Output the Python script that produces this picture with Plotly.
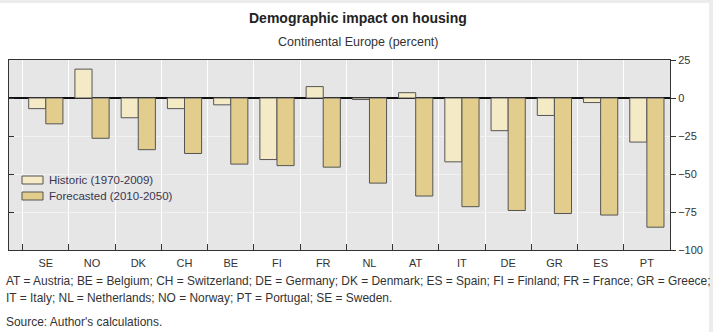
import plotly.graph_objects as go

countries = ["SE", "NO", "DK", "CH", "BE", "FI", "FR", "NL", "AT", "IT", "DE", "GR", "ES", "PT"]
historic = [-7, 19, -13, -7, -4.5, -40.5, 7.5, -1, 3.5, -42, -21.5, -11.5, -3, -29]
forecasted = [-17, -26.5, -34, -36.5, -43.5, -44.5, -45.5, -56, -64.5, -71.5, -74, -76, -77, -85]
series_names = ["Historic (1970-2009)", "Forecasted (2010-2050)"]
series_colors = ["#f4eac6", "#e2cd8c"]
y_ticks = [25, 0, -25, -50, -75, -100]
y_tick_text = ["25", "0", "\u221225", "\u221250", "\u221275", "\u2212100"]

W, H = 713, 332
L, R, T, B = 9, 670, 60, 250  # plot area in pixels

def px(x):
    return (x - L) / (R - L)

def py(y):
    return (B - y) / (B - T)

FONT = "Liberation Sans, Arial, sans-serif"
EDGE = "#555555"

fig = go.Figure()
for name, vals, col in zip(series_names, [historic, forecasted], series_colors):
    fig.add_trace(go.Bar(
        x=countries, y=vals, name=name, showlegend=False,
        marker=dict(color=col, line=dict(color=EDGE, width=1)),
    ))
# invisible trace that carries the left-hand tick marks
fig.add_trace(go.Scatter(x=countries[:1], y=[0], yaxis="y2", mode="markers",
                         marker=dict(opacity=0), showlegend=False, hoverinfo="skip"))

fig.update_layout(
    width=W, height=H,
    margin=dict(l=L, r=W - R, t=T, b=H - B, pad=0),
    paper_bgcolor="white",
    plot_bgcolor="#e6e6e6",
    barmode="group",
    bargap=0.26,
    bargroupgap=0,
    font=dict(family=FONT, size=11, color="#333333"),
    showlegend=False,
    xaxis=dict(
        type="category", tickson="boundaries", ticks="inside", ticklen=6,
        tickcolor="#333333", showgrid=True, gridcolor="white", gridwidth=1,
        showline=True, linecolor="#333333", linewidth=1, mirror=True,
        tickfont=dict(size=11, color="#333333"), zeroline=False,
        ticklabelstandoff=3,
    ),
    yaxis=dict(
        side="right", range=[-100, 25], tickvals=y_ticks, ticktext=y_tick_text,
        ticks="outside", ticklen=5, tickcolor="#333333",
        showgrid=True, gridcolor="#f2f2f2", gridwidth=1,
        zeroline=True, zerolinecolor="#111111", zerolinewidth=1.5,
        showline=True, linecolor="#333333", linewidth=1,
        tickfont=dict(size=11, color="#333333"),
    ),
    yaxis2=dict(
        overlaying="y", side="left", range=[-100, 25], tickvals=y_ticks,
        ticks="inside", ticklen=5, tickcolor="#333333", showticklabels=False,
        showgrid=False, zeroline=False, showline=True, linecolor="#333333",
        linewidth=1,
    ),
)

fig.add_annotation(text="<b>Demographic impact on housing</b>", x=px(358), y=py(18),
                   xref="paper", yref="paper", xanchor="center", yanchor="middle",
                   showarrow=False, font=dict(size=14, color="#222222"))
fig.add_annotation(text="Continental Europe (percent)", x=px(359), y=py(42),
                   xref="paper", yref="paper", xanchor="center", yanchor="middle",
                   showarrow=False, font=dict(size=12.5, color="#333333"))

# legend: swatch plus label for each series
for i, (name, col) in enumerate(zip(series_names, series_colors)):
    yc = 180 + 16 * i
    fig.add_shape(type="rect", xref="paper", yref="paper",
                  x0=px(22), x1=px(43), y0=py(yc + 4), y1=py(yc - 4),
                  fillcolor=col, line=dict(color=EDGE, width=1), layer="above")
    fig.add_annotation(text=name, x=px(47), y=py(yc), xref="paper", yref="paper",
                       xanchor="left", yanchor="middle", showarrow=False,
                       font=dict(size=11.5, color="#3a3550"))

notes = [
    ("AT = Austria; BE = Belgium; CH = Switzerland; DE = Germany; DK = Denmark; ES = Spain; "
     "FI = Finland; FR = France; GR = Greece;", 281),
    ("IT = Italy; NL = Netherlands; NO = Norway; PT = Portugal; SE = Sweden.", 298),
    ("Source: Author's calculations.", 322),
]
for txt, yy in notes:
    fig.add_annotation(text=txt, x=px(4), y=py(yy), xref="paper", yref="paper",
                       xanchor="left", yanchor="middle", showarrow=False,
                       font=dict(size=11.95, color="#333333"))

# light frame strips along the top and right edges of the page
fig.add_shape(type="rect", xref="paper", yref="paper", x0=px(0), x1=px(W),
              y0=py(3), y1=py(0), fillcolor="#ececec", line_width=0, layer="above")
fig.add_shape(type="rect", xref="paper", yref="paper", x0=px(709), x1=px(W),
              y0=py(H), y1=py(0), fillcolor="#ececec", line_width=0, layer="above")

fig.write_html("out.html")
